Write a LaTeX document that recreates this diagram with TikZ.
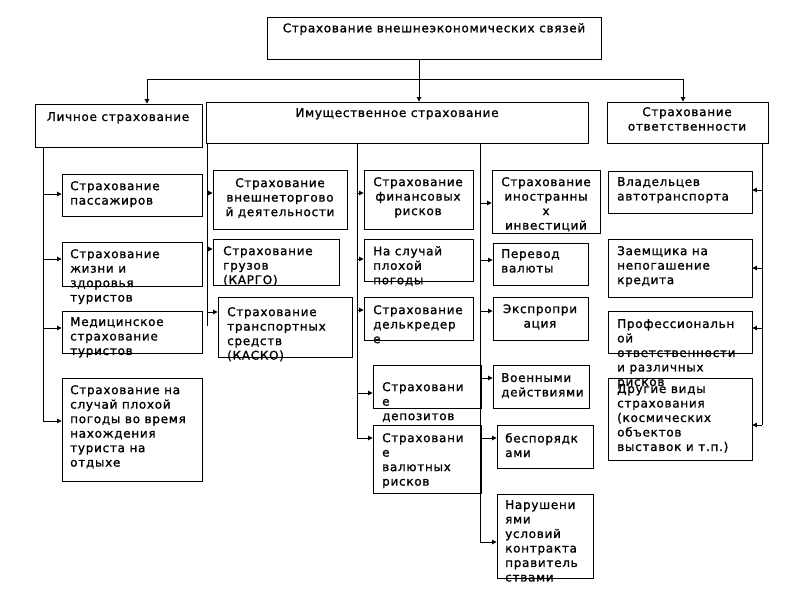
\documentclass[tikz,border=0pt]{standalone}
\usepackage{fontspec}
\setmainfont{DejaVu Sans}[LetterSpace=6,FakeBold=1.2]
\usetikzlibrary{arrows.meta}
\tikzset{
  box/.style={draw=black, line width=0.9pt, inner sep=0pt, rectangle},
  txt/.style={inner sep=0pt, font=\fontsize{12}{14.5}\selectfont},
  tl/.style={txt, align=left, anchor=north west},
  tc/.style={txt, align=center, anchor=north},
  ln/.style={draw=black, line width=0.9pt},
  arr/.style={ln, -{Triangle[length=4.5pt,width=4.5pt]}}
}
\newcommand\bx[5]{\node[box, minimum width={(#4-#2)*1pt}, minimum height={(#5-#3)*1pt}] (#1) at ({(#2+#4)/2},{(#3+#5)/2}) {};}
\newcommand\brL[3]{\coordinate (s#1) at (#2,#3); \draw[arr] (s#1) -- (s#1 -| #1.west);}
\newcommand\brR[3]{\coordinate (s#1) at (#2,#3); \draw[arr] (s#1) -- (s#1 -| #1.east);}
\begin{document}
\begin{tikzpicture}[x=1pt,y=-1pt]
\useasboundingbox[fill=white] (0,0) rectangle (800,600);
% boxes
\bx{top}{267}{17}{601}{59}
\bx{lich}{35}{104}{202}{147}
\bx{imu}{206}{102}{588}{143}
\bx{otv}{607}{102}{768}{143}
\bx{L1}{62}{174}{202}{216}
\bx{L2}{62}{242}{202}{286}
\bx{L3}{62}{311}{202}{353}
\bx{L4}{62}{378}{202}{481}
\bx{A1}{213}{170}{347}{229}
\bx{A2}{213}{239}{339}{285}
\bx{A3}{218}{297}{352}{357}
\bx{B1}{364}{170}{473}{229}
\bx{B2}{364}{239}{473}{281}
\bx{B3}{364}{297}{473}{340}
\bx{B4}{373}{365}{481}{408}
\bx{B5}{373}{425}{481}{493}
\bx{C1}{492}{170}{600}{233}
\bx{C2}{493}{243}{588}{285}
\bx{C3}{493}{297}{588}{340}
\bx{C4}{493}{365}{589}{408}
\bx{C5}{497}{425}{593}{468}
\bx{C6}{497}{494}{593}{578}
\bx{R1}{608}{171}{752}{213}
\bx{R2}{608}{239}{752}{297}
\bx{R3}{608}{311}{752}{353}
\bx{R4}{608}{378}{752}{460}
% texts
\node[tc] (topt) at (434,23) {Страхование внешнеэкономических связей};
\node[tc] (licht) at (118,112) {Личное страхование};
\node[tc] (imut) at (397,108) {Имущественное страхование};
\node[tc] (otvt) at (687,107) {Страхование\\ответственности};
\node[tl] (L1t) at (70,181) {Страхование\\пассажиров};
\node[tl] (L2t) at (70,249) {Страхование\\жизни и\\здоровья\\туристов};
\node[tl] (L3t) at (70,317) {Медицинское\\страхование\\туристов};
\node[tl] (L4t) at (70,385) {Страхование на\\случай плохой\\погоды во время\\нахождения\\туриста на\\отдыхе};
\node[tc] (A1t) at (280,178) {Страхование\\внешнеторгово\\й деятельности};
\node[tl] (A2t) at (223,246) {Страхование\\грузов\\(КАРГО)};
\node[tl] (A3t) at (227,307) {Страхование\\транспортных\\средств\\(КАСКО)};
\node[tc] (B1t) at (418,177) {Страхование\\финансовых\\рисков};
\node[tl] (B2t) at (373,246) {На случай\\плохой\\погоды};
\node[tl] (B3t) at (373,305) {Страхование\\делькредер\\е};
\node[tl] (B4t) at (382,382) {Страховани\\е\\депозитов};
\node[tl] (B5t) at (382,433) {Страховани\\е\\валютных\\рисков};
\node[tc] (C1t) at (546,177) {Страхование\\иностранны\\х\\инвестиций};
\node[tl] (C2t) at (501,249) {Перевод\\валюты};
\node[tc] (C3t) at (540,304) {Экспропри\\ация};
\node[tl] (C4t) at (501,373) {Военными\\действиями};
\node[tl] (C5t) at (505,433) {беспорядк\\ами};
\node[tl] (C6t) at (505,500) {Нарушени\\ями\\условий\\контракта\\правитель\\ствами};
\node[tl] (R1t) at (617,177) {Владельцев\\автотранспорта};
\node[tl] (R2t) at (617,246) {Заемщика на\\непогашение\\кредита};
\node[tl] (R3t) at (617,319) {Профессиональн\\ой\\ответственности\\и различных\\рисков};
\node[tl] (R4t) at (617,384) {Другие виды\\страхования\\(космических\\объектов\\выставок и т.п.)};
% top connectors
\coordinate (tv) at (419,59);
\draw[arr] (tv) -- (tv |- imu.north);
\coordinate (hl) at (147,79);
\coordinate (hr) at (683,79);
\draw[ln] (hl) -- (hr);
\draw[arr] (hl) -- (hl |- lich.north);
\draw[arr] (hr) -- (hr |- otv.north);
% left spine
\brL{L1}{43}{194}
\brL{L2}{43}{259}
\brL{L3}{43}{328}
\brL{L4}{43}{421}
\draw[ln] (sL4 |- lich.south) -- (sL4);
% column A spine
\brL{A1}{207}{193}
\brL{A2}{207}{249}
\brL{A3}{207}{312}
\coordinate (eA) at (207,326);
\draw[ln] (eA |- imu.south) -- (eA);
% column B spine
\brL{B1}{357}{193}
\brL{B2}{357}{259}
\brL{B3}{357}{310}
\brL{B4}{357}{393}
\brL{B5}{357}{438}
\draw[ln] (sB5 |- imu.south) -- (sB5);
% column C spine
\brL{C1}{480}{203}
\brL{C2}{480}{260}
\brL{C3}{480}{311}
\brL{C4}{480}{378}
\brL{C5}{480}{438}
\brL{C6}{480}{542}
\draw[ln] (sC6 |- imu.south) -- (sC6);
% right spine
\brR{R1}{762}{190}
\brR{R2}{762}{268}
\brR{R3}{762}{328}
\brR{R4}{762}{425}
\draw[ln] (sR4 |- otv.south) -- (sR4);
\end{tikzpicture}
\end{document}
